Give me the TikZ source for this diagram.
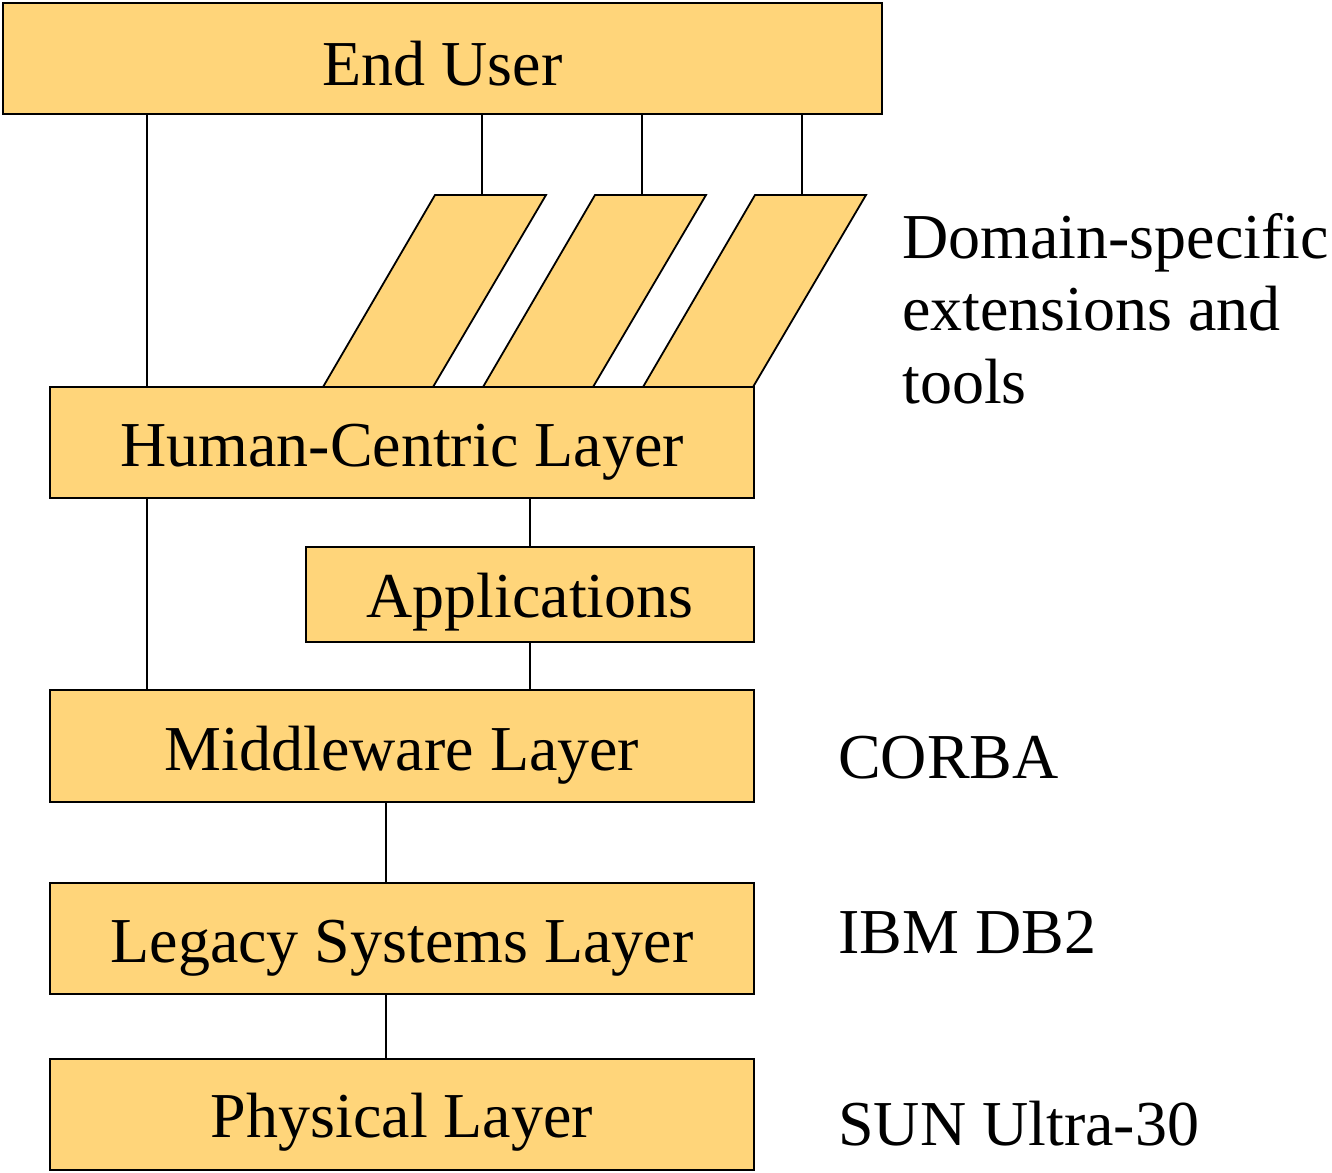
\documentclass[tikz,border=0pt]{standalone}
\usepackage{fontspec}
\setmainfont{Liberation Serif}
\definecolor{layerfill}{RGB}{255,213,122}
\begin{document}
\begin{tikzpicture}[x=1pt,y=-1pt,
  layer/.style={draw=black, line width=1.8pt, fill=layerfill, inner sep=0pt,
    anchor=base, font=\fontsize{64}{72.5}\selectfont},
  link/.style={draw=black, line width=1.3pt},
  ext/.style={draw=black, line width=1.8pt, fill=layerfill, line join=miter},
  note/.style={anchor=base west, inner sep=0pt, align=left,
    font=\fontsize{64}{72.5}\selectfont}]
\useasboundingbox (0,0) rectangle (1332,1172);

% column positions of the connectors
\coordinate (cA) at (147,0);
\coordinate (cB) at (386,0);
\coordinate (cC) at (530,0);
\coordinate (e1) at (482,195);
\coordinate (e2) at (642,195);
\coordinate (e3) at (802,195);

% domain-specific extension slabs
\foreach \d in {0,160,320} {
  \path[ext] (435+\d,195) -- (546+\d,195) -- (433+\d,387) -- (323+\d,387) -- cycle;
}

% layers
\node[layer, minimum width=879pt, text height=82pt, text depth=29pt] (eu) at (442.5,85) {End User};
\node[layer, minimum width=704pt, text height=79pt, text depth=32pt] (hc) at (402,466) {Human-Centric Layer};
\node[layer, minimum width=448pt, text height=70pt, text depth=25pt] (app) at (530,617) {Applications};
\node[layer, minimum width=704pt, text height=80pt, text depth=32pt] (mw) at (402,770) {Middleware Layer};
\node[layer, minimum width=704pt, text height=79pt, text depth=32pt] (ls) at (402,962) {Legacy Systems Layer};
\node[layer, minimum width=704pt, text height=78pt, text depth=33pt] (ph) at (402,1137) {Physical Layer};

% connectors
\draw[link] (eu.south -| cA) -- (hc.north -| cA);
\draw[link] (eu.south -| e1) -- (e1);
\draw[link] (eu.south -| e2) -- (e2);
\draw[link] (eu.south -| e3) -- (e3);
\draw[link] (hc.south -| cA) -- (mw.north -| cA);
\draw[link] (hc.south -| cC) -- (app.north -| cC);
\draw[link] (app.south -| cC) -- (mw.north -| cC);
\draw[link] (mw.south -| cB) -- (ls.north -| cB);
\draw[link] (ls.south -| cB) -- (ph.north -| cB);

% annotations (base of a multi-line note is its last line)
\node[note] (dom) at (902,403) {Domain-specific\\extensions and\\tools};
\node[note] (corba) at (838,778) {CORBA};
\node[note] (db2) at (838,953) {IBM DB2};
\node[note] (sun) at (838,1145) {SUN Ultra-30};
\end{tikzpicture}
\end{document}
